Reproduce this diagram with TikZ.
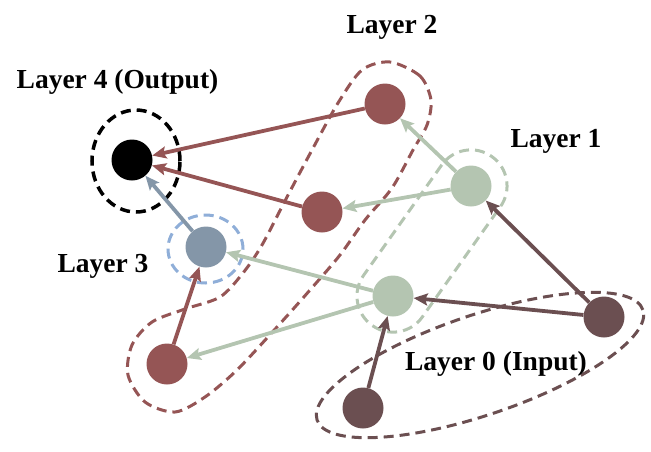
\documentclass[tikz,border=0pt]{standalone}
\usepackage{fontspec}
\setmainfont{Liberation Serif}
\usetikzlibrary{arrows.meta,shapes.geometric}
\definecolor{cred}{RGB}{149,85,85}
\definecolor{cgreen}{RGB}{180,197,177}
\definecolor{cbgray}{RGB}{132,150,168}
\definecolor{cbrown}{RGB}{107,79,81}
\definecolor{cblue}{RGB}{143,174,216}
\begin{document}
\begin{tikzpicture}[x=1pt,y=-1pt,
  neuron/.style={circle, inner sep=0pt, minimum size=41pt},
  hull/.style={line width=3pt, dash pattern=on 10pt off 6pt},
  conn/.style={line width=3.8pt, -{Stealth[length=14pt,width=12pt,inset=2.5pt]}},
  lab/.style={font=\fontsize{27.5}{30}\selectfont\bfseries, anchor=base, inner sep=0pt}]
\useasboundingbox (0,0) rectangle (651,451);
% group outlines
\node[hull, draw=cbrown, ellipse, minimum width=344pt, minimum height=100pt, inner sep=0pt, rotate=18.7] (h0) at (480,365) {};
\node[hull, draw=cgreen, rectangle, rounded corners=35.9pt, minimum width=207pt, minimum height=72pt, inner sep=0pt, rotate=54.7] (h1) at (432,241) {};
\draw[hull, draw=cred] plot[smooth cycle] coordinates {(390,62) (420,76) (431,100) (427,125) (413,150) (392,188) (365,220) (340,255) (310,290) (277,327) (237,370) (205,397) (175,412) (145,402) (128,375) (132,345) (152,322) (185,309) (220,297) (243,273) (262,245) (287,197) (312,150) (338,103) (362,70)};
\draw[hull, draw=cblue] (205.5,249) ellipse [x radius=37.5pt, y radius=34pt];
\draw[hull, draw=black, line width=3.5pt] (136,161) ellipse [x radius=44pt, y radius=51pt];
% neurons
\node[neuron, fill=black] (out) at (132,160) {};
\node[neuron, fill=cred] (l2a) at (385,104) {};
\node[neuron, fill=cred] (l2b) at (322,212) {};
\node[neuron, fill=cred] (l2c) at (167,364) {};
\node[neuron, fill=cbgray] (l3) at (206,247) {};
\node[neuron, fill=cgreen] (l1a) at (471,186) {};
\node[neuron, fill=cgreen] (l1b) at (393,296) {};
\node[neuron, fill=cbrown] (l0a) at (604,317) {};
\node[neuron, fill=cbrown] (l0b) at (363,408) {};
% connections
\draw[conn, cred] (l2a) -- (out);
\draw[conn, cred] (l2b) -- (out);
\draw[conn, cbgray] (l3) -- (out);
\draw[conn, cgreen] (l1a) -- (l2a);
\draw[conn, cgreen] (l1a) -- (l2b);
\draw[conn, cgreen] (l1b) -- (l3);
\draw[conn, cgreen] (l1b) -- (l2c);
\draw[conn, cred] (l2c) -- (l3);
\draw[conn, cbrown] (l0a) -- (l1a);
\draw[conn, cbrown] (l0a) -- (l1b);
\draw[conn, cbrown] (l0b) -- (l1b);
% labels
\node[lab] (t4) at (117.5,88) {Layer 4 (Output)};
\node[lab] (t2) at (392,33) {Layer 2};
\node[lab] (t1) at (556,147) {Layer 1};
\node[lab] (t3) at (103,272) {Layer 3};
\node[lab] (t0) at (496,370) {Layer 0 (Input)};
\end{tikzpicture}
\end{document}
